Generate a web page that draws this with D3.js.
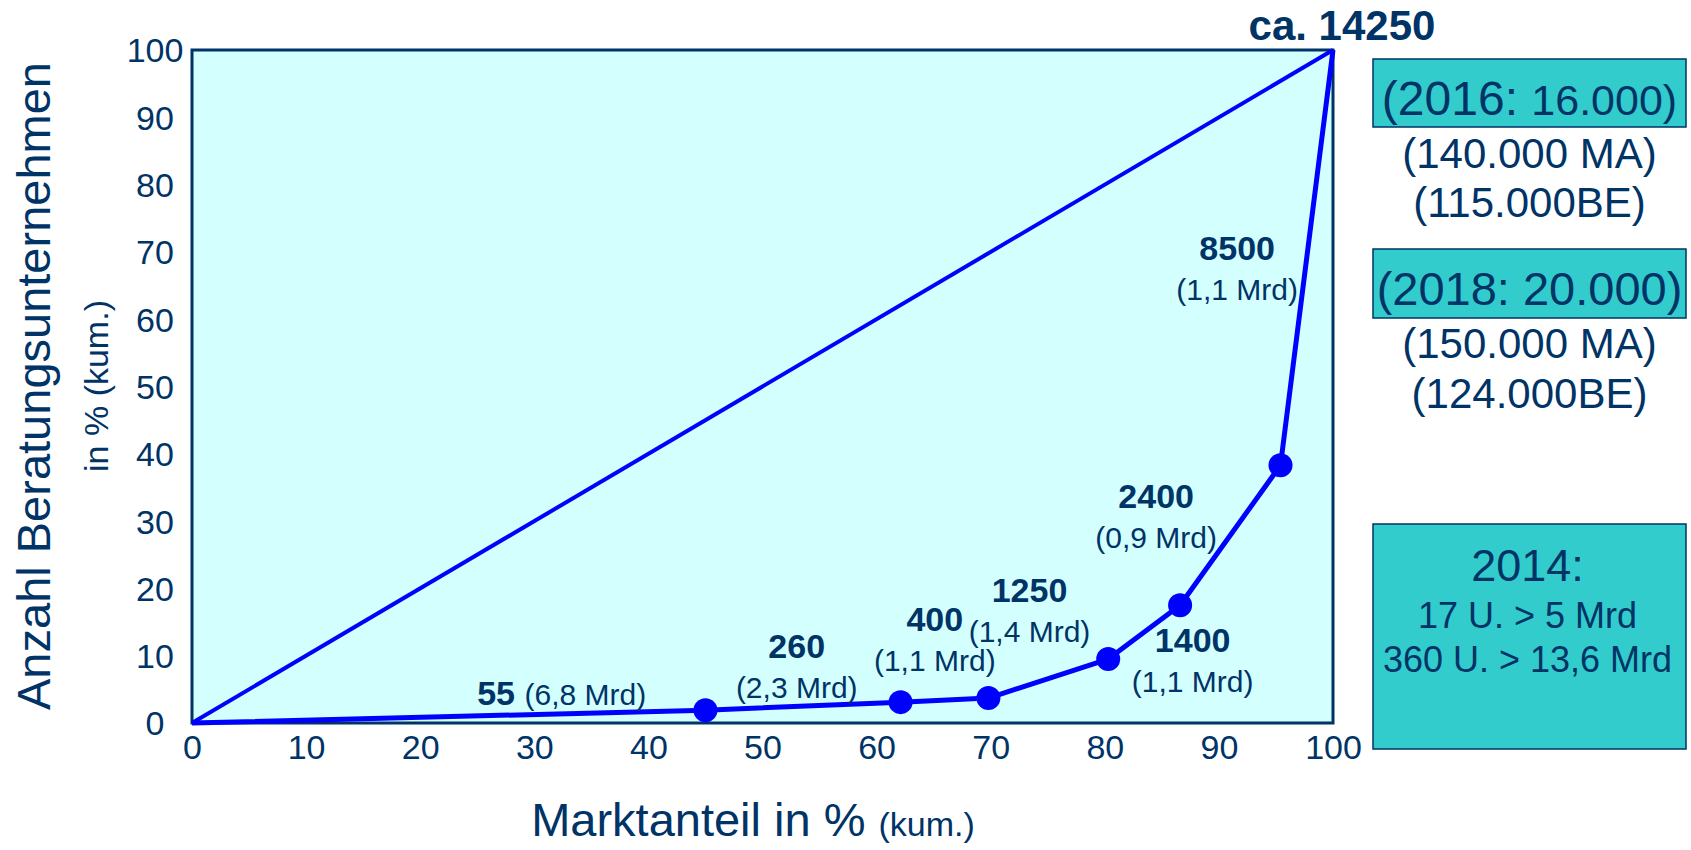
<!DOCTYPE html>
<html>
<head>
<meta charset="utf-8">
<script src="https://cdn.jsdelivr.net/npm/d3@7"></script>
<style>
  body { margin: 0; background: #fff; }
  text { font-family: "Liberation Sans", Arial, sans-serif; fill: #003366; }
</style>
</head>
<body>
<div id="chart"></div>
<script>
// Konzentrationskurve: cumulative market share vs. cumulative number of firms
var marketShare = [0, 45.0, 62.1, 69.8, 80.3, 86.6, 95.4, 100];
var firmShare   = [0, 1.9, 3.1, 3.7, 9.5, 17.5, 38.3, 100];
var dotIdx      = [1, 2, 3, 4, 5, 6];

var firmCounts  = ["55", "260", "400", "1250", "1400", "2400", "8500"];
var revenues    = ["(6,8 Mrd)", "(2,3 Mrd)", "(1,1 Mrd)", "(1,4 Mrd)", "(1,1 Mrd)", "(0,9 Mrd)", "(1,1 Mrd)"];
var totalLabel  = "ca. 14250";

var xTicks = [0, 10, 20, 30, 40, 50, 60, 70, 80, 90, 100];
var yTicks = [0, 10, 20, 30, 40, 50, 60, 70, 80, 90, 100];

// label anchors, in data units of the plot
var labelPos = [[32.4, 2.7], [53.0, 9.7], [65.1, 13.7], [73.4, 18.0], [87.7, 10.5], [84.5, 31.9], [91.6, 68.8]];

var W = 1691, H = 850;
var margin = {top: 50, right: 358, bottom: 127, left: 192};

var svg = d3.select("#chart").append("svg")
    .attr("width", W).attr("height", H);

var x = d3.scaleLinear().domain([0, 100]).range([margin.left, W - margin.right]);
var y = d3.scaleLinear().domain([0, 100]).range([H - margin.bottom, margin.top]);

// plot area
svg.append("rect")
    .attr("x", x(0)).attr("y", y(100))
    .attr("width", x(100) - x(0)).attr("height", y(0) - y(100))
    .style("fill", "#d4ffff")
    .style("stroke", "#003366")
    .style("stroke-width", 3);

// axes (labels only)
var xAxis = svg.append("g")
    .attr("transform", "translate(0," + (y(0) + 12) + ")")
    .call(d3.axisBottom(x).tickValues(xTicks).tickSize(0).tickPadding(0));
xAxis.select(".domain").remove();
xAxis.selectAll("text")
    .style("font-size", "34px")
    .attr("dy", "0.71em");

var yAxis = svg.append("g")
    .attr("transform", "translate(155,0)")
    .call(d3.axisLeft(y).tickValues(yTicks).tickSize(0).tickPadding(0));
yAxis.select(".domain").remove();
yAxis.selectAll("text")
    .style("font-size", "34px")
    .attr("text-anchor", "middle")
    .attr("dy", "0.35em");

// equal distribution diagonal
svg.append("path")
    .attr("d", d3.line()([[x(0), y(0)], [x(100), y(100)]]))
    .style("stroke", "#0000ff")
    .style("stroke-width", 4)
    .style("fill", "none");

// concentration curve
var pts = marketShare.map(function(d, i) { return [x(d), y(firmShare[i])]; });
svg.append("path")
    .attr("d", d3.line()(pts))
    .style("stroke", "#0000ff")
    .style("stroke-width", 5)
    .style("stroke-linejoin", "round")
    .style("fill", "none");

svg.selectAll("circle.dot")
    .data(dotIdx)
    .enter()
    .append("circle")
    .attr("class", "dot")
    .attr("cx", function(i) { return x(marketShare[i]); })
    .attr("cy", function(i) { return y(firmShare[i]); })
    .attr("r", 12)
    .style("fill", "#0000ff");

// point labels
firmCounts.forEach(function(n, i) {
    var p = labelPos[i];
    if (i == 0) {
        // single line: count + revenue
        var t = svg.append("text")
            .attr("x", x(p[0])).attr("y", y(p[1]))
            .attr("text-anchor", "middle");
        t.append("tspan").text(n + " ").style("font-weight", "bold").style("font-size", "34px");
        t.append("tspan").text(revenues[i]).style("font-size", "30px");
        return;
    }
    svg.append("text")
        .attr("x", x(p[0])).attr("y", y(p[1]))
        .attr("text-anchor", "middle")
        .style("font-weight", "bold")
        .style("font-size", "34px")
        .text(n);
    svg.append("text")
        .attr("x", x(p[0])).attr("y", y(p[1]) + 40)
        .attr("text-anchor", "middle")
        .style("font-size", "30px")
        .text(revenues[i]);
});

svg.append("text")
    .attr("x", x(92.6)).attr("y", y(101.5))
    .style("font-weight", "bold")
    .style("font-size", "42px")
    .text(totalLabel);

// axis titles
var xt = svg.append("text")
    .attr("x", 753).attr("y", 836)
    .attr("text-anchor", "middle");
xt.append("tspan").text("Marktanteil in % ").style("font-size", "47px");
xt.append("tspan").text("(kum.)").style("font-size", "34px");

svg.append("text")
    .attr("transform", "translate(50,386) rotate(-90)")
    .attr("text-anchor", "middle")
    .style("font-size", "47px")
    .text("Anzahl Beratungsunternehmen");

svg.append("text")
    .attr("transform", "translate(108,386) rotate(-90)")
    .attr("text-anchor", "middle")
    .style("font-size", "34px")
    .text("in % (kum.)");

// side boxes
var boxX = 1373, boxW = 313, boxCx = boxX + boxW / 2;
var boxes = [
    {y: 59, h: 68},
    {y: 249, h: 69},
    {y: 524, h: 225}
];
svg.selectAll("rect.box")
    .data(boxes)
    .enter()
    .append("rect")
    .attr("class", "box")
    .attr("x", boxX).attr("y", function(d) { return d.y; })
    .attr("width", boxW).attr("height", function(d) { return d.h; })
    .style("fill", "#33cccc")
    .style("stroke", "#003366")
    .style("stroke-width", 1.5);

var t1 = svg.append("text").attr("x", boxCx).attr("y", 115).attr("text-anchor", "middle");
t1.append("tspan").text("(2016: ").style("font-size", "48px");
t1.append("tspan").text("16.000)").style("font-size", "43px");

svg.append("text").attr("x", boxCx).attr("y", 168).attr("text-anchor", "middle")
    .style("font-size", "42px").text("(140.000 MA)");
svg.append("text").attr("x", boxCx).attr("y", 217).attr("text-anchor", "middle")
    .style("font-size", "42px").text("(115.000BE)");

svg.append("text").attr("x", boxCx).attr("y", 305).attr("text-anchor", "middle")
    .style("font-size", "47px").text("(2018: 20.000)");
svg.append("text").attr("x", boxCx).attr("y", 358).attr("text-anchor", "middle")
    .style("font-size", "42px").text("(150.000 MA)");
svg.append("text").attr("x", boxCx).attr("y", 408).attr("text-anchor", "middle")
    .style("font-size", "42px").text("(124.000BE)");

svg.append("text").attr("x", boxCx - 2).attr("y", 581).attr("text-anchor", "middle")
    .style("font-size", "45px").text("2014:");
svg.append("text").attr("x", boxCx - 2).attr("y", 628).attr("text-anchor", "middle")
    .style("font-size", "36px").text("17 U. > 5 Mrd");
svg.append("text").attr("x", boxCx - 2).attr("y", 672).attr("text-anchor", "middle")
    .style("font-size", "36px").text("360 U. > 13,6 Mrd");
</script>
</body>
</html>
